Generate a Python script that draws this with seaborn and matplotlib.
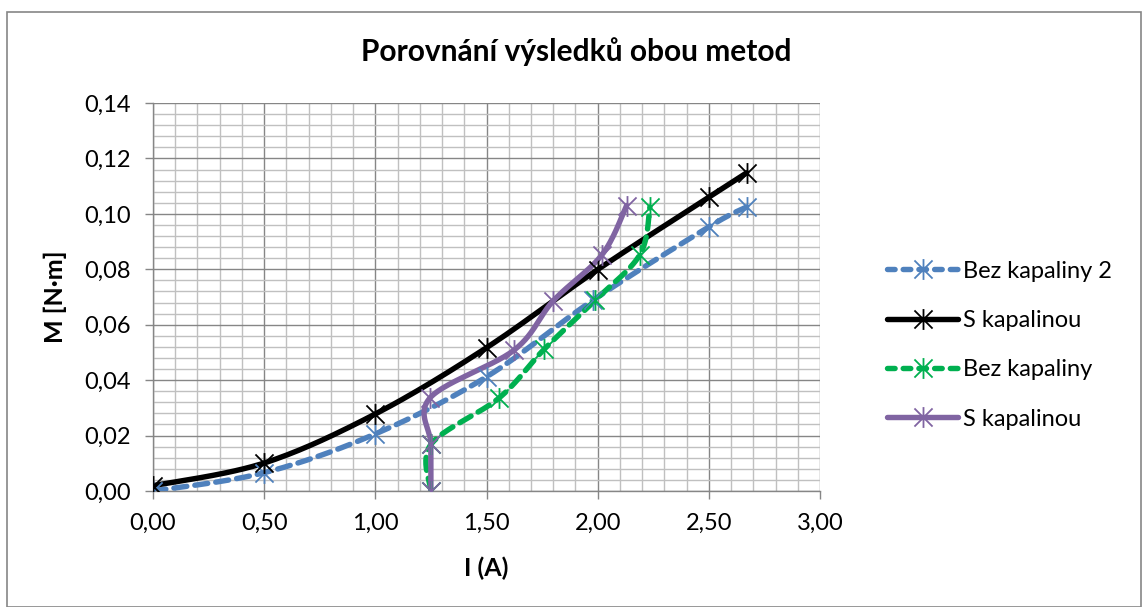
import numpy as np
import pandas as pd
import matplotlib
matplotlib.use("Agg")
import matplotlib.pyplot as plt
from matplotlib.path import Path
from matplotlib.lines import Line2D
from matplotlib.ticker import MultipleLocator, FuncFormatter
import seaborn as sns

# ---- data ----
series_names = ["Bez kapaliny 2", "S kapalinou", "Bez kapaliny", "S kapalinou"]
x_bez2 = [0.00, 0.50, 1.00, 1.50, 1.98, 2.50, 2.67]
y_bez2 = [0.0000, 0.0066, 0.0206, 0.0412, 0.0689, 0.0953, 0.1025]
x_s1 = [0.00, 0.50, 1.00, 1.50, 2.00, 2.50, 2.67]
y_s1 = [0.0019, 0.0101, 0.0278, 0.0517, 0.0799, 0.1060, 0.1148]
x_bez = [1.25, 1.25, 1.557, 1.76, 1.99, 2.19, 2.235]
y_bez = [0.0000, 0.0168, 0.0336, 0.0512, 0.0689, 0.0853, 0.1025]
x_s2 = [1.25, 1.25, 1.246, 1.625, 1.80, 2.02, 2.13]
y_s2 = [0.0000, 0.0168, 0.0336, 0.0509, 0.0686, 0.0853, 0.1030]

colors = ["#4F81BD", "#000000", "#00B050", "#8064A2"]
dashed = [True, False, True, False]

sns.set_theme(style="white")
plt.rcParams['font.family'] = ['Lato', 'DejaVu Sans']
plt.rcParams['text.color'] = 'black'
plt.rcParams['axes.labelcolor'] = 'black'


def smooth(xs, ys, n=30):
    """Excel-like smoothed line (Catmull-Rom Bezier) through the data points."""
    p = np.column_stack([xs, ys]).astype(float)
    m = len(p)
    out = []
    for i in range(m - 1):
        p0 = p[i - 1] if i > 0 else p[i]
        p1 = p[i]
        p2 = p[i + 1]
        p3 = p[i + 2] if i + 2 < m else p[i + 1]
        c1 = p1 + (p2 - p0) / 6.0
        c2 = p2 - (p3 - p1) / 6.0
        t = np.linspace(0, 1, n)[:, None]
        seg = ((1 - t) ** 3) * p1 + 3 * ((1 - t) ** 2) * t * c1 + 3 * (1 - t) * t ** 2 * c2 + t ** 3 * p2
        if i > 0:
            seg = seg[1:]
        out.append(seg)
    out = np.vstack(out)
    return out[:, 0], out[:, 1]


star = Path([(-1, -1), (1, 1), (-1, 1), (1, -1), (0, -1.15), (0, 1.15)],
            [Path.MOVETO, Path.LINETO, Path.MOVETO, Path.LINETO, Path.MOVETO, Path.LINETO])

LW = 3.9
MS = 15

fig = plt.figure(figsize=(11.42, 6.07), dpi=100)
ax = fig.add_axes([153 / 1142, 1 - 491 / 607, (820 - 153) / 1142, (491 - 103) / 607])

# figure border
fig.patches.append(plt.Rectangle((7 / 1142, 0.0), 1134 / 1142, 1 - 12 / 607, transform=fig.transFigure,
                                 fill=False, edgecolor="#868686", linewidth=1.2))

all_x = [x_bez2, x_s1, x_bez, x_s2]
all_y = [y_bez2, y_s1, y_bez, y_s2]

handles = []
for name, xs, ys, c, d in zip(series_names, all_x, all_y, colors, dashed):
    sx, sy = smooth(xs, ys)
    df = pd.DataFrame({"x": sx, "y": sy})
    sns.lineplot(data=df, x="x", y="y", sort=False, estimator=None, ax=ax, color=c,
                 linewidth=LW, solid_capstyle="round", dash_capstyle="round", zorder=3)
    line = ax.lines[-1]
    if d:
        line.set_dashes((2.4, 1.5))
    ax.plot(xs, ys, linestyle="none", marker=star, markersize=MS, markeredgewidth=1.3,
            markeredgecolor=c, markerfacecolor="none", zorder=4)
    h = Line2D([], [], color=c, linewidth=LW, marker=star, markersize=MS, markeredgewidth=1.3,
               markeredgecolor=c, markerfacecolor="none", solid_capstyle="round", dash_capstyle="round")
    if d:
        h.set_dashes((1.4, 1.5))
    handles.append(h)

ax.set_xlim(0, 3)
ax.set_ylim(0, 0.14)
ax.xaxis.set_major_locator(MultipleLocator(0.5))
ax.xaxis.set_minor_locator(MultipleLocator(0.1))
ax.yaxis.set_major_locator(MultipleLocator(0.02))
ax.yaxis.set_minor_locator(MultipleLocator(0.004))
ax.xaxis.set_major_formatter(FuncFormatter(lambda v, p: f"{v:.2f}".replace(".", ",")))
ax.yaxis.set_major_formatter(FuncFormatter(lambda v, p: f"{v:.2f}".replace(".", ",")))

ax.grid(which="minor", color="#C0C0C0", linewidth=1.0, zorder=0)
ax.grid(which="major", color="#868686", linewidth=1.0, zorder=0)
ax.set_axisbelow(True)
for s in ["top", "right"]:
    ax.spines[s].set_visible(False)
for s in ["left", "bottom"]:
    ax.spines[s].set_color("#868686")
    ax.spines[s].set_linewidth(1.0)

ax.tick_params(axis="both", which="major", direction="out", length=6, width=1.0, color="#868686",
               labelsize=17, labelcolor="black", pad=10, left=True, bottom=True)
ax.tick_params(axis="both", which="minor", length=0)

ax.set_xlabel("I (A)", fontsize=18, fontweight="bold", labelpad=16, color="black")
ax.set_ylabel("M [N·m]", fontsize=18, fontweight="bold", labelpad=12, color="black")
fig.text(576 / 1142, 1 - 52 / 607, "Porovnání výsledků obou metod", ha="center", va="center",
         fontsize=21.5, fontweight="bold", color="black")

leg = fig.legend(handles=handles, labels=series_names, loc="center left",
                 bbox_to_anchor=(866 / 1142, 1 - 345 / 607), frameon=False, fontsize=17,
                 handlelength=3.0, handletextpad=0.2, labelspacing=1.2, numpoints=1,
                 labelcolor="black")

fig.savefig("out.png", dpi=100, facecolor="white")
